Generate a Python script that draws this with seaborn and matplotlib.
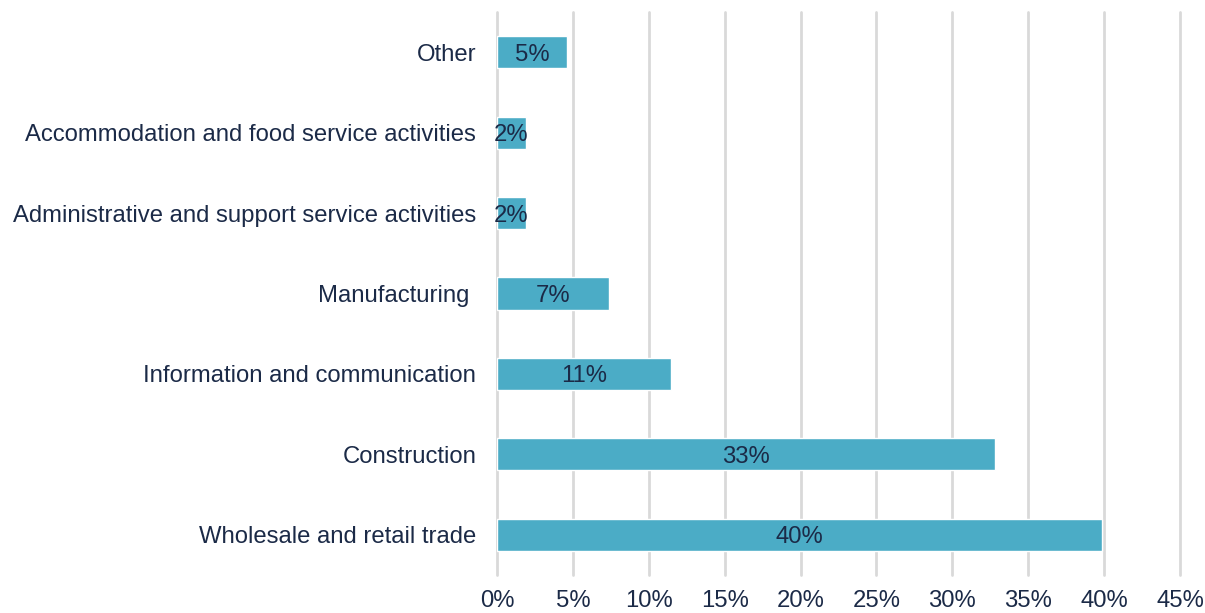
import matplotlib
matplotlib.use("Agg")
import matplotlib.pyplot as plt
import seaborn as sns
import pandas as pd
from matplotlib.ticker import FuncFormatter, MultipleLocator

categories = [
    "Other",
    "Accommodation and food service activities",
    "Administrative and support service activities",
    "Manufacturing ",
    "Information and communication",
    "Construction",
    "Wholesale and retail trade",
]
values = [4.6, 1.9, 1.9, 7.4, 11.45, 32.8, 39.85]
value_labels = ["5%", "2%", "2%", "7%", "11%", "33%", "40%"]

df = pd.DataFrame({"category": categories, "value": values})

sns.set_theme(style="white")
plt.rcParams["font.family"] = ["Liberation Sans", "DejaVu Sans"]

navy = "#1b2a47"
bar_color = "#4bacc6"
grid_color = "#d9d9d9"
fs = 17.2

fig = plt.figure(figsize=(12.05, 6.13), dpi=100)
ax = fig.add_axes([497 / 1205, 1 - 575 / 613, (1180 - 497) / 1205, (575 - 12) / 613])

sns.barplot(data=df, x="value", y="category", order=categories, color=bar_color,
            saturation=1, width=0.4, ax=ax, orient="h")

for patch, lab in zip(ax.patches, value_labels):
    w = patch.get_width()
    y = patch.get_y() + patch.get_height() / 2
    ax.text(w / 2, y, lab, ha="center", va="center_baseline", fontsize=fs, color=navy)

ax.set_xlim(0, 45)
ax.xaxis.set_major_locator(MultipleLocator(5))
ax.xaxis.set_major_formatter(FuncFormatter(lambda v, p: f"{v:.0f}%"))
ax.set_axisbelow(True)
ax.grid(axis="x", color=grid_color, linewidth=2)
ax.grid(axis="y", visible=False)
for gl in ax.get_xgridlines():
    gl.set_clip_on(False)
for s in ax.spines.values():
    s.set_visible(False)
ax.set_xlabel("")
ax.set_ylabel("")
ax.tick_params(axis="x", length=0, pad=11, labelsize=fs, labelcolor=navy)
ax.tick_params(axis="y", length=0, pad=15, labelsize=fs, labelcolor=navy)

fig.savefig("out.png", dpi=100)
